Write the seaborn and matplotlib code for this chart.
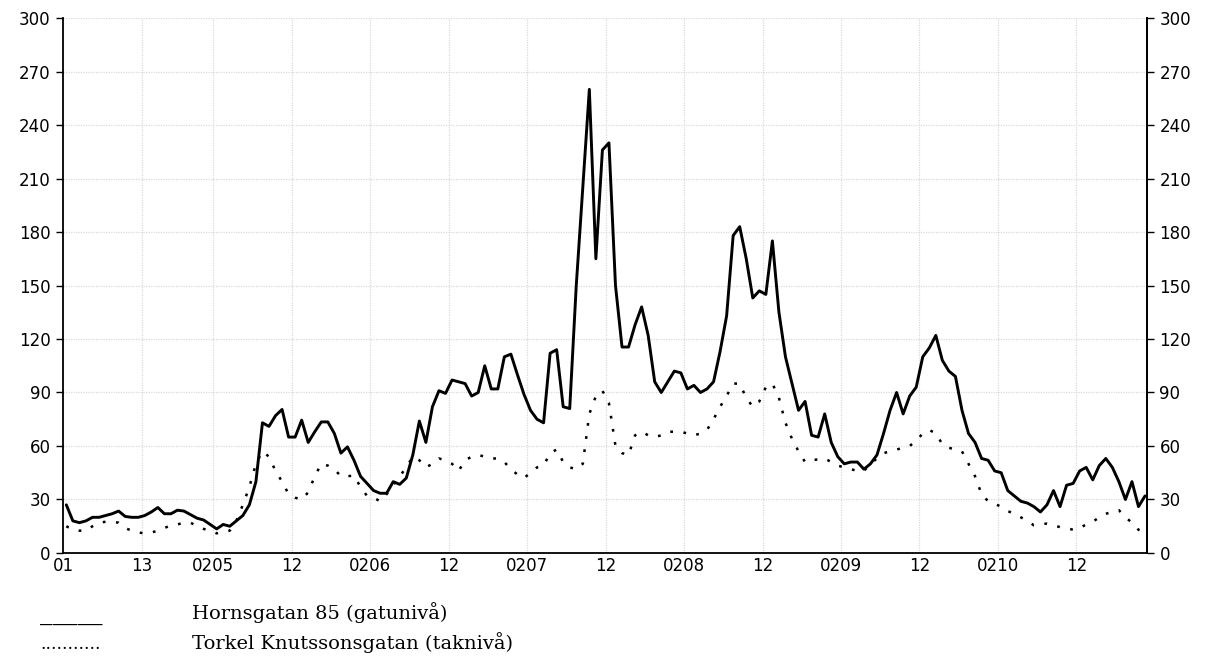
import numpy as np
import pandas as pd
import matplotlib
matplotlib.use("Agg")
import matplotlib.pyplot as plt
import seaborn as sns

# hourly values
hours = np.arange(1.5, 167.5)

horns = [
    27, 18, 17, 18, 20, 20, 21, 22, 23.5, 20.5,
    20, 20, 21, 23, 25.5, 22, 22, 24, 23.5, 21.5,
    19.5, 18.5, 16, 13.5, 16, 15, 18, 21, 27, 40,
    73, 71, 77, 80.5, 65, 65, 74.5, 62, 68, 73.5,
    73.5, 67, 56, 59.5, 52, 43, 39, 35, 33.5, 33.5,
    40, 38.5, 42, 55, 74, 62, 82, 91, 89.5, 97,
    96, 95, 88, 90, 105, 92, 92, 110, 111.5, 100,
    89, 80, 75, 73, 112, 114, 82, 81, 150, 205,
    260, 165, 226, 230, 150, 115.5, 115.5, 128, 138, 122,
    96, 90, 96, 102, 101, 92, 94, 90, 92, 96,
    113, 133, 178, 183, 165, 143, 147, 145, 175, 135,
    110, 95, 80, 85, 66, 65, 78, 62, 54, 50,
    51, 51, 47, 50, 55, 67, 80, 90, 78, 88,
    93, 110, 115, 122, 108, 102, 99, 80, 67, 62,
    53, 52, 46, 45, 35, 32, 29, 28, 26, 23,
    27, 35, 26, 38, 39, 46, 48, 41, 49, 53,
    48, 40, 30, 40, 26, 32,
]

torkel = [
    15, 13, 12.5, 12.5, 15, 17, 17.5, 17.5, 17, 14,
    12.5, 11.5, 11, 11.5, 12.5, 14, 15.5, 16, 17, 17,
    15, 13.5, 12.5, 11, 12, 12.5, 18, 27, 37, 50,
    57, 54, 46, 40, 33, 31, 30, 34, 43, 50,
    49, 47, 43, 43, 43.5, 37, 32, 31, 29, 33,
    38, 43, 48, 54, 52, 48, 50, 53, 52, 50,
    46, 52, 54, 55, 54, 53, 53, 51, 47, 44,
    42, 45, 48, 49, 56, 58, 51, 48, 47, 50,
    78, 88, 91, 84, 60, 56, 55, 66, 68, 66,
    65, 66, 68, 68, 68, 67, 66, 67, 69, 75,
    82, 88, 95, 95, 87, 82, 85, 93, 95, 87,
    73, 64, 57, 51, 52, 52.5, 53, 51, 49, 48,
    47, 46, 46, 50, 53, 56, 57, 58, 59, 60,
    63, 67, 69, 67, 61, 59, 58, 57, 50, 43,
    33, 29, 27.5, 26, 23.5, 22, 20, 18, 15.5, 16,
    16.5, 15.5, 14.5, 14, 13, 14, 16, 17.5, 20, 22,
    23, 24, 20, 17, 13, 12,
]

tick_pos = [1, 13, 24, 36, 48, 60, 72, 84, 96, 108, 120, 132, 144, 156]
tick_lab = ["01", "13", "0205", "12", "0206", "12", "0207", "12",
            "0208", "12", "0209", "12", "0210", "12"]
y_ticks = list(range(0, 301, 30))

df = pd.DataFrame({"hour": hours, "horns": horns, "torkel": torkel})

sns.set_style("white")
plt.rcParams["font.family"] = ["DejaVu Sans"]

fig = plt.figure(figsize=(12.08, 6.58), dpi=100)
ax = fig.add_axes([0.0522, 0.1596, 0.8973, 0.8130])

sns.lineplot(data=df, x="hour", y="torkel", ax=ax, color="black",
             linewidth=1.8, linestyle=(0, (1.1, 4.2)))
sns.lineplot(data=df, x="hour", y="horns", ax=ax, color="black",
             linewidth=2.1)

ax.set_xlim(1, 166.8)
ax.set_ylim(0, 300)
ax.set_xticks(tick_pos)
ax.set_xticklabels(tick_lab)
ax.set_yticks(y_ticks)
ax.set_xlabel("")
ax.set_ylabel("")
ax.grid(True, color="#dadada", linestyle=(0, (1, 1)), linewidth=0.9)
ax.set_axisbelow(True)

for s in ["left", "bottom", "right"]:
    ax.spines[s].set_color("black")
    ax.spines[s].set_linewidth(1.3)
ax.spines["top"].set_visible(False)

ax.tick_params(axis="y", direction="out", length=5, width=1, labelsize=12, pad=4,
               colors="black")
ax.tick_params(axis="x", direction="inout", length=9, width=1, labelsize=12, pad=-1.5,
               colors="black")

ax2 = ax.twinx()
ax2.set_ylim(0, 300)
ax2.set_yticks(y_ticks)
ax2.tick_params(axis="y", direction="out", length=5, width=1, labelsize=12, pad=4,
                colors="black")
ax2.spines["top"].set_visible(False)
ax2.spines["left"].set_visible(False)
ax2.spines["bottom"].set_visible(False)
ax2.spines["right"].set_color("black")
ax2.spines["right"].set_linewidth(1.3)
ax2.grid(False)

# legend below the plot, as plain text
serif = ["DejaVu Serif"]
fig.text(40 / 1208, 1 - 619 / 658, "_____", family=serif, fontsize=18,
         va="baseline", color="black")
fig.text(192 / 1208, 1 - 619 / 658, "Hornsgatan 85 (gatunivå)", family=serif,
         fontsize=14, va="baseline", color="black")
fig.text(40 / 1208, 1 - 649 / 658, "...........", family=serif, fontsize=12.5,
         va="baseline", color="black")
fig.text(192 / 1208, 1 - 649 / 658, "Torkel Knutssonsgatan (taknivå)", family=serif,
         fontsize=14, va="baseline", color="black")

fig.savefig("out.png", dpi=100)
